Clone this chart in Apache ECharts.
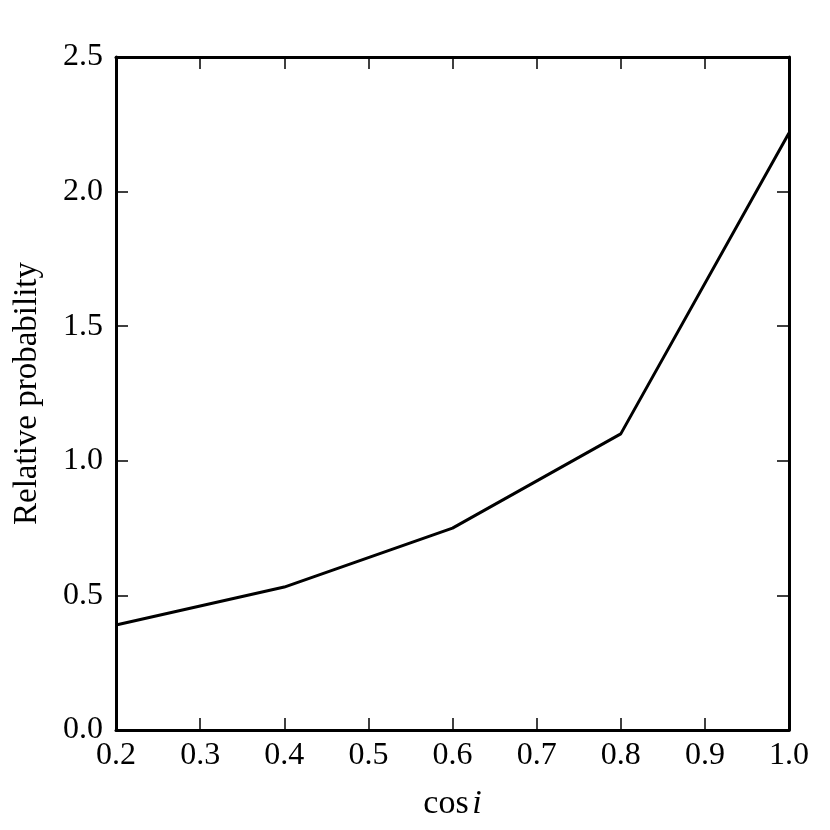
<!DOCTYPE html>
<html>
<head>
<meta charset="utf-8">
<script src="https://cdn.jsdelivr.net/npm/echarts@6/dist/echarts.min.js"></script>
<style>html,body{margin:0;padding:0;background:#fff;}#c{width:830px;height:830px;}</style>
</head>
<body>
<div id="c"></div>
<script>
const cosI = [0.2, 0.4, 0.6, 0.8, 1.0];
const relProb = [0.39, 0.531, 0.75, 1.10, 2.218];
const xTicks = [0.2, 0.3, 0.4, 0.5, 0.6, 0.7, 0.8, 0.9, 1.0];
const yTicks = [0.0, 0.5, 1.0, 1.5, 2.0, 2.5];

const FONT = 'Liberation Serif';
const FS = 32;
const NFS = 33;
const chart = echarts.init(document.getElementById('c'), null, {renderer: 'canvas'});
const frameLine = {show: true, onZero: false, lineStyle: {color: '#000', width: 3}};
const tick = {show: true, inside: true, length: 12, lineStyle: {color: '#000', width: 1.5}};
chart.setOption({
  animation: false,
  backgroundColor: '#fff',
  grid: {left: 116, right: 41, top: 57, bottom: 100, containLabel: false},
  xAxis: [{
    type: 'value', min: 0.2, max: 1.0, interval: 0.1,
    axisLine: frameLine, axisTick: tick, splitLine: {show: false},
    axisLabel: {show: true, margin: 10, color: '#000', fontFamily: FONT, fontSize: FS,
      formatter: v => v.toFixed(1)},
    name: 'cos{s| }{i|i}', nameLocation: 'middle', nameGap: 57,
    nameTextStyle: {color: '#000', fontFamily: FONT, fontSize: 34,
      rich: {i: {fontStyle: 'italic', fontFamily: FONT, fontSize: 34, color: '#000'},
             s: {fontFamily: FONT, fontSize: 14}}}
  }, {
    type: 'value', position: 'top', min: 0.2, max: 1.0, interval: 0.1,
    axisLine: frameLine, axisTick: tick, splitLine: {show: false}, axisLabel: {show: false}
  }],
  yAxis: [{
    type: 'value', min: 0, max: 2.5, interval: 0.5,
    axisLine: frameLine, axisTick: tick, splitLine: {show: false},
    axisLabel: {show: true, margin: 13, color: '#000', fontFamily: FONT, fontSize: FS,
      formatter: v => v.toFixed(1)},
    name: 'Relative probability', nameLocation: 'middle', nameGap: 72, nameRotate: 90,
    nameTextStyle: {color: '#000', fontFamily: FONT, fontSize: NFS}
  }, {
    type: 'value', position: 'right', min: 0, max: 2.5, interval: 0.5,
    axisLine: frameLine, axisTick: tick, splitLine: {show: false}, axisLabel: {show: false}
  }],
  series: [{
    type: 'line', xAxisIndex: 0, yAxisIndex: 0,
    data: cosI.map((x, i) => [x, relProb[i]]),
    showSymbol: false, symbol: 'none',
    lineStyle: {color: '#000', width: 3}, clip: true
  }]
});
</script>
</body>
</html>
